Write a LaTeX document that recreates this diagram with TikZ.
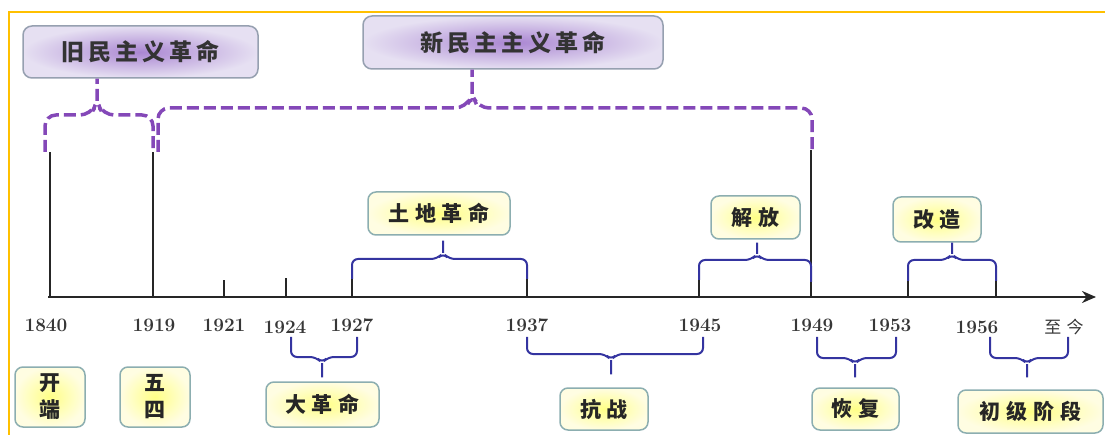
\documentclass[tikz,border=0pt]{standalone}
\usepackage{fontspec}
\usepackage{tikz}
\usetikzlibrary{arrows.meta}
\newfontfamily\cjk{Noto Sans CJK SC}[LetterSpace=18]
\newfontfamily\cjkb{Noto Sans CJK SC}[LetterSpace=28]
\newfontfamily\cjkn{Noto Sans CJK SC}[LetterSpace=30]

\definecolor{frameyellow}{RGB}{255,192,0}
\definecolor{erapurple}{RGB}{132,72,184}
\definecolor{braceblue}{RGB}{52,52,160}
\definecolor{yedge}{RGB}{140,174,176}
\definecolor{pedge}{RGB}{150,160,176}
\definecolor{pinner}{RGB}{170,134,210}
\definecolor{pouter}{RGB}{230,224,242}
\definecolor{yinner}{RGB}{255,255,135}
\definecolor{youter}{RGB}{255,253,226}
\definecolor{yeartext}{RGB}{55,55,55}

\tikzset{
  pbox/.style={draw=pedge, line width=1.5pt, rounded corners=9pt,
    inner color=pinner, outer color=pouter, inner sep=0pt,
    font=\fontsize{23}{23}\cjk\bfseries, text=black!80},
  ybox/.style={draw=yedge, line width=1.5pt, rounded corners=8pt,
    inner color=yinner, outer color=youter, inner sep=0pt, align=center,
    font=\fontsize{21}{27}\cjkb\bfseries, text=black!85},
  year/.style={font=\fontsize{19}{19}\selectfont\bfseries, text=yeartext},
  axisline/.style={line width=2.5pt, draw=black!85},
  brace/.style={line width=2pt, draw=braceblue, rounded corners=6pt},
  era/.style={line width=3.5pt, draw=erapurple, dash pattern=on 12pt off 5pt,
    rounded corners=11pt},
}

\begin{document}
\begin{tikzpicture}[x=1pt,y=-1pt]
  \useasboundingbox (0,0) rectangle (1105,435);
  % frame
  \draw[frameyellow, line width=2pt] (8.5,440) -- (8.5,12) -- (1110,12);

  % time axis
  \coordinate (start) at (48,297);
  \coordinate (end) at (1096,297);
  \draw[axisline,-{Stealth[length=14pt,width=12pt]}] (start) -- (end);
  \foreach \x/\top in {50/152,153/152,811/150}
    \draw[axisline] (\x,297) -- (\x,\top);
  \foreach \x/\top in {224/280,286/278,352/279,527/279,699/280,908/281,996/281}
    \draw[axisline] (\x,297) -- (\x,\top);

  % years
  \foreach \x/\y/\t in {46/325/1840,154/325/1919,224/325/1921,285/327/1924,
      352/325/1927,527/325/1937,700/325/1945,812/325/1949,890/325/1953,977/327/1956}
    \node[year] (y\t) at (\x,\y) {\t};
  \node[year, font=\fontsize{17}{17}\cjkn] (ynow) at (1064,327) {至今};

  % eras
  \node[pbox, minimum width=235pt, minimum height=52pt] (oldrev) at (140.5,52) {旧民主义革命};
  \node[pbox, minimum width=300pt, minimum height=53pt] (newrev) at (513,42.5) {新民主主义革命};

  % periods
  \node[ybox, minimum width=142pt, minimum height=43pt] (tudi) at (439,213.5) {土地革命};
  \node[ybox, minimum width=89pt, minimum height=43pt] (jiefang) at (755.5,217.5) {解放};
  \node[ybox, minimum width=88pt, minimum height=45pt] (gaizao) at (937,219.5) {改造};
  \node[ybox, minimum width=70pt, minimum height=60pt] (kaiduan) at (50,397) {开\\端};
  \node[ybox, minimum width=70pt, minimum height=60pt] (wusi) at (155,397) {五\\四};
  \node[ybox, minimum width=113pt, minimum height=45pt] (dageming) at (322.5,404.5) {大革命};
  \node[ybox, minimum width=88pt, minimum height=42pt] (kangzhan) at (604,409) {抗战};
  \node[ybox, minimum width=87pt, minimum height=42pt] (huifu) at (855.5,409) {恢复};
  \node[ybox, minimum width=145pt, minimum height=43pt] (chuji) at (1030.5,411.5) {初级阶段};

  % brace tips
  \coordinate (tipold) at (97,101);
  \coordinate (tipnew) at (472,94);
  \coordinate (tiptudi) at (443,253);
  \coordinate (tipjf) at (757,254);
  \coordinate (tipgz) at (952,254);
  \coordinate (tipdgm) at (322,363);
  \coordinate (tipkz) at (611,360);
  \coordinate (tiphf) at (855,364);
  \coordinate (tipcj) at (1027,364);

  % dashed era braces
  \draw[era] (45,152) |- (91,115) -- (tipold) -- (103,115) -| (153,152)
    (tipold) -- (tipold |- oldrev.south);
  \draw[era] (158,152) |- (466,108) -- (tipnew) -- (478,108) -| (812,150)
    (tipnew) -- (tipnew |- newrev.south);

  % upper braces
  \draw[brace, shorten >=5pt] (352,279) |- (437,259) -- (tiptudi) -- (449,259) -| (527,279)
    (tiptudi) -- (tiptudi |- tudi.south);
  \draw[brace, shorten >=3pt] (699,280) |- (751,260) -- (tipjf) -- (763,260) -| (811,282)
    (tipjf) -- (tipjf |- jiefang.south);
  \draw[brace] (908,281) |- (946,260) -- (tipgz) -- (958,260) -| (996,281)
    (tipgz) -- (tipgz |- gaizao.south);

  % lower braces
  \draw[brace, shorten >=4pt] (291,337) |- (316,357) -- (tipdgm) -- (328,357) -| (357,337)
    (tipdgm) -- (tipdgm |- dageming.north);
  \draw[brace, shorten >=13pt] (527,337) |- (605,354) -- (tipkz) -- (617,354) -| (703,337)
    (tipkz) -- (tipkz |- kangzhan.north);
  \draw[brace, shorten >=10pt] (817,337) |- (849,358) -- (tiphf) -- (861,358) -| (896,337)
    (tiphf) -- (tiphf |- huifu.north);
  \draw[brace, shorten >=12pt] (990,337) |- (1021,358) -- (tipcj) -- (1033,358) -| (1068,337)
    (tipcj) -- (tipcj |- chuji.north);
\end{tikzpicture}
\end{document}
